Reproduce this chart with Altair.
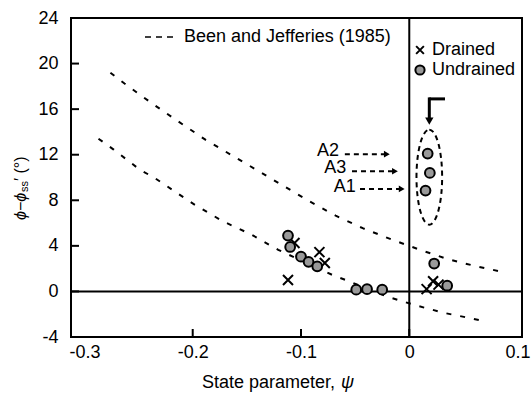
import altair as alt
import pandas as pd

# ---------------- data ----------------
und_psi = [-0.112, -0.110, -0.100, -0.093, -0.085, -0.049, -0.039, -0.025,
           0.023, 0.035, 0.017, 0.019, 0.015]
und_dphi = [4.9, 3.9, 3.05, 2.6, 2.2, 0.15, 0.2, 0.15,
            2.45, 0.5, 12.1, 10.4, 8.85]

dr_psi = [-0.106, -0.083, -0.078, -0.112, 0.016, 0.022, 0.027]
dr_dphi = [4.25, 3.45, 2.5, 1.0, 0.2, 0.9, 0.6]

bj_up_psi = [-0.276, -0.263, -0.239, -0.213, -0.188, -0.163, -0.139, -0.092,
             -0.068, -0.043, -0.016, 0.010, 0.035, 0.062, 0.087]
bj_up_dphi = [19.2, 18.25, 16.6, 14.9, 13.3, 11.9, 10.55, 7.9,
              6.65, 5.55, 4.55, 3.65, 2.85, 2.2, 1.7]
bj_lo_psi = [-0.287, -0.273, -0.249, -0.235, -0.198, -0.172, -0.146, -0.121,
             -0.070, -0.056, -0.019, 0.007, 0.033, 0.059, 0.072]
bj_lo_dphi = [13.4, 12.45, 10.7, 9.95, 7.6, 6.15, 5.0, 3.65,
              1.4, 0.9, -0.5, -1.25, -1.9, -2.4, -2.65]

x_ticks = [-0.3, -0.2, -0.1, 0.0, 0.1]
y_ticks = [-4, 0, 4, 8, 12, 16, 20, 24]

ann_labels = ["A2", "A3", "A1"]
ann_text_x = [-0.075, -0.0683, -0.0596]
ann_text_y = [12.3, 10.8, 9.2]
ann_arrow_x0 = [-0.0595, -0.0529, -0.0455]
ann_arrow_x1 = [-0.0207, -0.0132, -0.0070]
ann_arrow_y = [12.05, 10.55, 9.0]

FONT = "Arial"
W, H = 451, 319

xs = alt.Scale(domain=[-0.3124, 0.1041], nice=False, zero=False)
ys = alt.Scale(domain=[-4, 24], nice=False, zero=False)

und = pd.DataFrame({"psi": und_psi, "d": und_dphi})
dr = pd.DataFrame({"psi": dr_psi, "d": dr_dphi})
bj = pd.concat([
    pd.DataFrame({"psi": bj_up_psi, "d": bj_up_dphi, "c": "upper"}),
    pd.DataFrame({"psi": bj_lo_psi, "d": bj_lo_dphi, "c": "lower"}),
])
ann = pd.DataFrame({"lab": ann_labels, "tx": ann_text_x, "ty": ann_text_y,
                    "ax0": ann_arrow_x0, "ax1": ann_arrow_x1, "ay": ann_arrow_y})
xt = pd.DataFrame({"v": x_ticks})
yt = pd.DataFrame({"v": y_ticks})
one = pd.DataFrame({"k": [0]})  # single row for one-off annotation marks

lab_expr = "'' + datum.value"

base = alt.Chart(und).mark_point(opacity=0).encode(
    x=alt.X("psi:Q", scale=xs, axis=alt.Axis(
        values=x_ticks, labelExpr=lab_expr, title=None, grid=False, domain=False,
        tickSize=0, labelPadding=6, labelFontSize=18, labelFont=FONT,
        labelColor="black")),
    y=alt.Y("d:Q", scale=ys, axis=alt.Axis(
        values=y_ticks, labelExpr=lab_expr, title=None, grid=False, domain=False,
        tickSize=0, labelPadding=13, labelFontSize=18, labelFont=FONT,
        labelColor="black")),
)

curves = alt.Chart(bj).mark_line(color="black", strokeWidth=2, strokeDash=[5, 9]).encode(
    x=alt.X("psi:Q", scale=xs), y=alt.Y("d:Q", scale=ys), detail="c:N")

zero_v = alt.Chart(one).mark_rule(color="black", strokeWidth=2).encode(
    x=alt.datum(0, scale=xs), y=alt.value(0), y2=alt.value(H))
zero_h = alt.Chart(one).mark_rule(color="black", strokeWidth=2).encode(
    y=alt.datum(0, scale=ys), x=alt.value(0), x2=alt.value(W))

ytick_marks = alt.Chart(yt).mark_rule(color="black", strokeWidth=2).encode(
    y=alt.Y("v:Q", scale=ys), x=alt.value(0), x2=alt.value(8))
xtick_marks = alt.Chart(xt).transform_filter(
    "datum.v > -0.25 && datum.v < 0.05").mark_rule(color="black", strokeWidth=2).encode(
    x=alt.X("v:Q", scale=xs), y=alt.value(H), y2=alt.value(H - 8))

CROSS = "M-1,-1L1,1M-1,1L1,-1"
crosses = alt.Chart(dr).mark_point(shape=CROSS, size=100, color="black",
                                   strokeWidth=2, filled=False, opacity=1).encode(
    x=alt.X("psi:Q", scale=xs), y=alt.Y("d:Q", scale=ys))
circles = alt.Chart(und).mark_point(shape="circle", size=95, fill="#999999",
                                    stroke="black", strokeWidth=2, filled=True,
                                    opacity=1).encode(
    x=alt.X("psi:Q", scale=xs), y=alt.Y("d:Q", scale=ys))

# ellipse and bent arrow
ELL = "M0,-1A0.27,1,0,1,1,0,1A0.27,1,0,1,1,0,-1Z"
ellipse = alt.Chart(one).mark_point(shape=ELL, size=9025, filled=False, color="black",
                                    strokeWidth=2, strokeDash=[5, 4], opacity=1).encode(
    x=alt.datum(0.0185, scale=xs), y=alt.datum(10.03, scale=ys))
bend_h = alt.Chart(one).mark_rule(color="black", strokeWidth=3).encode(
    x=alt.datum(0.0185, scale=xs), x2=alt.datum(0.033), y=alt.datum(16.9, scale=ys))
bend_v = alt.Chart(one).mark_rule(color="black", strokeWidth=3).encode(
    x=alt.datum(0.0185, scale=xs), y=alt.datum(16.9 + 0.13, scale=ys), y2=alt.datum(15.2))
bend_head = alt.Chart(one).mark_point(shape="triangle-down", size=70, filled=True,
                                      color="black", opacity=1).encode(
    x=alt.datum(0.0185, scale=xs), y=alt.datum(14.95, scale=ys))

TXT = dict(font=FONT, fill="black", fontWeight=400)

ann_text = alt.Chart(ann).mark_text(fontSize=18, align="center", baseline="middle",
                                    **TXT).encode(
    x=alt.X("tx:Q", scale=xs), y=alt.Y("ty:Q", scale=ys), text="lab:N")
ann_line = alt.Chart(ann).mark_rule(color="black", strokeWidth=2, strokeDash=[5, 4]).encode(
    x=alt.X("ax0:Q", scale=xs), x2="ax1:Q", y=alt.Y("ay:Q", scale=ys))
ann_head = alt.Chart(ann).mark_point(shape="triangle-right", size=45, filled=True,
                                     color="black", opacity=1).encode(
    x=alt.X("ax1:Q", scale=xs), y=alt.Y("ay:Q", scale=ys))

# legend (drawn inside plot)
leg_line = alt.Chart(one).mark_rule(color="black", strokeWidth=1.5, strokeDash=[6, 5]).encode(
    x=alt.value(74), x2=alt.value(102), y=alt.value(19))
leg_bj = alt.Chart(one).mark_text(text="Been and Jefferies (1985)", fontSize=18,
                                  align="left", baseline="middle", **TXT).encode(
    x=alt.value(113), y=alt.value(19))
leg_x = alt.Chart(one).mark_point(shape=CROSS, size=60, color="black", strokeWidth=2,
                                  filled=False, opacity=1).encode(
    x=alt.value(349), y=alt.value(32))
leg_xt = alt.Chart(one).mark_text(text="Drained", fontSize=18, align="left",
                                  baseline="middle", **TXT).encode(
    x=alt.value(361), y=alt.value(32))
leg_c = alt.Chart(one).mark_point(shape="circle", size=85, fill="#999999", stroke="black",
                                  strokeWidth=2, filled=True, opacity=1).encode(
    x=alt.value(349), y=alt.value(52))
leg_ct = alt.Chart(one).mark_text(text="Undrained", fontSize=18, align="left",
                                  baseline="middle", **TXT).encode(
    x=alt.value(361), y=alt.value(52))

# axis titles as text pieces
xt1 = alt.Chart(one).mark_text(text="State parameter, ", fontSize=18,
                               align="left", baseline="middle", **TXT).encode(
    x=alt.value(131), y=alt.value(365))
xt2 = alt.Chart(one).mark_text(text="ψ", fontSize=18, fontStyle="italic",
                               align="left", baseline="middle", **TXT).encode(
    x=alt.value(270), y=alt.value(365))
yt1 = alt.Chart(one).mark_text(text="ϕ−ϕ", fontSize=16, fontStyle="italic",
                               angle=270, align="left", baseline="middle", **TXT).encode(
    x=alt.value(-50), y=alt.value(202))
yt2 = alt.Chart(one).mark_text(text="ss", fontSize=11,
                               angle=270, align="left", baseline="middle", **TXT).encode(
    x=alt.value(-46), y=alt.value(174))
yt3 = alt.Chart(one).mark_text(text="′ (°)", fontSize=16,
                               angle=270, align="left", baseline="middle", **TXT).encode(
    x=alt.value(-50), y=alt.value(163))

chart = alt.layer(
    base, curves, zero_v, zero_h, ytick_marks, xtick_marks,
    ellipse, bend_h, bend_v, bend_head, ann_line, ann_head, ann_text,
    crosses, circles,
    leg_line, leg_bj, leg_x, leg_xt, leg_c, leg_ct,
    xt1, xt2, yt1, yt2, yt3,
).properties(
    width=W, height=H,
    autosize=alt.AutoSizeParams(type="none"),
    padding={"left": 71, "top": 18, "right": 9, "bottom": 57},
    background="white",
).configure_view(stroke="black", strokeWidth=2)

chart.save("out.html", embed_options={"renderer": "svg", "actions": False})
